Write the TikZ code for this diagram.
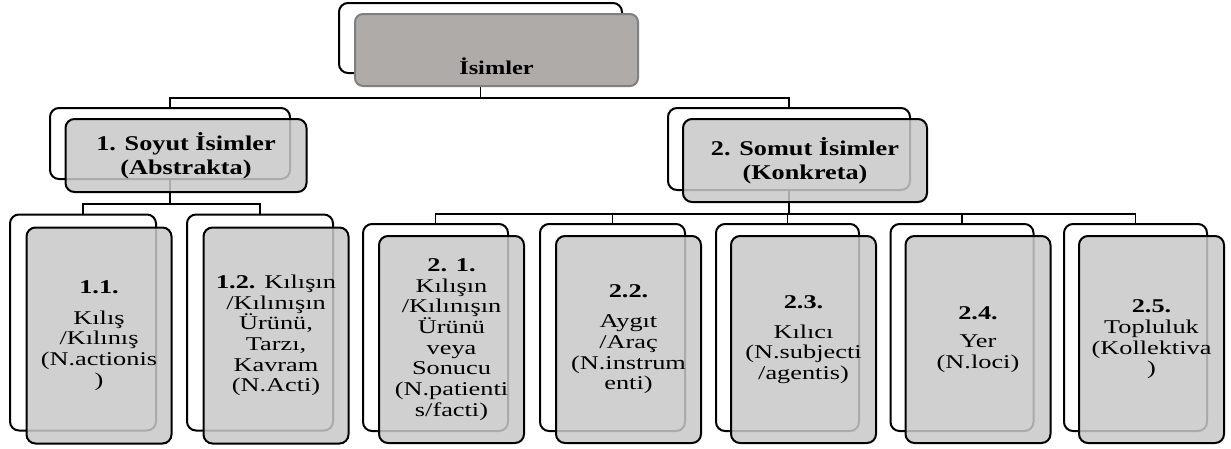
\documentclass[tikz,border=0pt]{standalone}
\usepackage{fontspec}
\setmainfont{Liberation Serif}
\newfontfamily\boxfont{Liberation Serif}[FakeStretch=1.35]
\newfontfamily\headfont{Liberation Serif}[FakeStretch=1.25]
\usepackage{xcolor}
\usepackage{tikz}
\usetikzlibrary{positioning, calc}
\definecolor{topgray}{HTML}{AEABA9}
\definecolor{boxgray}{HTML}{C8C8C8}
\newcommand{\leaffont}{\boxfont\fontsize{19.5}{20.7}\selectfont}
\newcommand{\midfont}{\headfont\bfseries\fontsize{21}{24}\selectfont}

\begin{document}
\begin{tikzpicture}[x=1pt, y=-1pt, line width=1.5pt,
  backbox/.style={draw, line width=2pt, fill=white, rounded corners=9pt, inner sep=0pt},
  topbox/.style={draw=gray, line width=2pt, fill=topgray, rounded corners=8pt, inner sep=0pt},
  midbox/.style={draw, line width=2pt, fill=boxgray, fill opacity=.85, text opacity=1, rounded corners=9pt, align=center, font=\midfont},
  leafbox/.style={draw, line width=2pt, fill=boxgray, fill opacity=.85, text opacity=1, rounded corners=9pt, align=center, font=\leaffont, minimum width=145pt}]
  \useasboundingbox (0,0) rectangle (1231,448);

  \node[backbox, minimum width=283pt, minimum height=70pt] (topb) at (480.5,38) {};
  \node[backbox, minimum width=240pt, minimum height=71pt] (b1) at (170,143.5) {};
  \node[backbox, minimum width=242pt, minimum height=82pt] (b2) at (789,149) {};
  \node[backbox, minimum width=146pt, minimum height=216pt] (b11) at (83,322.5) {};
  \node[backbox, minimum width=146pt, minimum height=216pt] (b12) at (260,322.5) {};
  \node[backbox, minimum width=145pt, minimum height=207pt] (b21) at (435.5,327.5) {};
  \node[backbox, minimum width=145pt, minimum height=207pt] (b22) at (612.5,327.5) {};
  \node[backbox, minimum width=143pt, minimum height=207pt] (b23) at (787.5,327.5) {};
  \node[backbox, minimum width=143pt, minimum height=207pt] (b24) at (962,327.5) {};
  \node[backbox, minimum width=143pt, minimum height=207pt] (b25) at (1135.5,327.5) {};

  \draw (topb.south) -- ++(0,24) -| (b1.north);
  \draw (topb.south) -- ++(0,24) -| (b2.north);
  \draw (b1.south) -- ++(0,24) -| (b11.north);
  \draw (b1.south) -- ++(0,24) -| (b12.north);
  \draw (b2.south) -- ++(0,23) -| (b21.north);
  \draw (b2.south) -- ++(0,23) -| (b22.north);
  \draw (b2.south) -- ++(0,23) -| (b23.north);
  \draw (b2.south) -- ++(0,23) -| (b24.north);
  \draw (b2.south) -- ++(0,23) -| (b25.north);

  \node[topbox, minimum width=283pt, minimum height=72pt] (topf) at ([shift={(16,12)}]topb) {};
  \node[anchor=base, font=\headfont\bfseries\fontsize{19.5}{22}\selectfont] (toptxt) at ([yshift=13pt]topf.south) {İsimler};
  \node[midbox, minimum width=241pt, minimum height=73pt] (f1) at ([shift={(16,12)}]b1) {1. Soyut İsimler\\(Abstrakta)};
  \node[midbox, minimum width=244pt, minimum height=83pt] (f2) at ([shift={(16,11.5)}]b2) {2. Somut İsimler\\(Konkreta)};
  \node[leafbox, minimum height=216pt] (f11) at ([shift={(16,13)}]b11) {\textbf{1.1.}\\[10pt]Kılış\\/Kılınış\\(N.actionis\\)};
  \node[leafbox, minimum height=216pt] (f12) at ([shift={(16,13)}]b12) {\textbf{1.2.} Kılışın\\/Kılınışın\\Ürünü,\\Tarzı,\\Kavram\\(N.Acti)};
  \node[leafbox, minimum height=207pt] (f21) at ([shift={(16,12)}]b21) {\textbf{2. 1.}\\Kılışın\\/Kılınışın\\Ürünü\\veya\\Sonucu\\(N.patienti\\s/facti)};
  \node[leafbox, minimum height=207pt] (f22) at ([shift={(16,12)}]b22) {\textbf{2.2.}\\[9pt]Aygıt\\/Araç\\(N.instrum\\enti)};
  \node[leafbox, minimum height=207pt] (f23) at ([shift={(16,12)}]b23) {\textbf{2.3.}\\[9pt]Kılıcı\\(N.subjecti\\/agentis)};
  \node[leafbox, minimum height=207pt] (f24) at ([shift={(16,12)}]b24) {\textbf{2.4.}\\[7pt]Yer\\(N.loci)};
  \node[leafbox, minimum height=207pt] (f25) at ([shift={(16,12)}]b25) {\textbf{2.5.}\\Topluluk\\(Kollektiva\\)};
\end{tikzpicture}
\end{document}
